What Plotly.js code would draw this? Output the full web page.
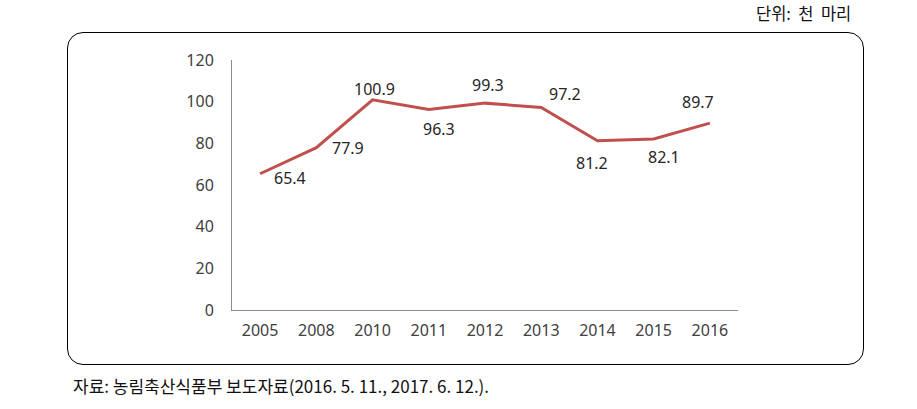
<!DOCTYPE html>
<html>
<head>
<meta charset="utf-8">
<script src="https://cdn.plot.ly/plotly-3.0.1.min.js"></script>
<style>
html,body{margin:0;padding:0;background:#fff;}
#wrap{position:relative;width:917px;height:409px;}
#chart{position:absolute;left:0;top:0;width:917px;height:409px;}
#box{position:absolute;left:67px;top:32px;width:795px;height:331px;border:1.5px solid #000;border-radius:16px;pointer-events:none;}
</style>
</head>
<body>
<div id="wrap">
<div id="chart"></div>
<div id="box"></div>
</div>
<script>
const years = ['2005','2008','2010','2011','2012','2013','2014','2015','2016'];
const heads = [65.4, 77.9, 100.9, 96.3, 99.3, 97.2, 81.2, 82.1, 89.7];
const yTicks = [0, 20, 40, 60, 80, 100, 120];
const unitText = '단위:  천  마리';
const sourceText = '자료: 농림축산식품부 보도자료(2016. 5. 11., 2017. 6. 12.).';

// label offsets (px) relative to each point
const labelShift = [
  [30, -4], [32, 0], [2, 11], [10, -20], [3, 18], [24, 14], [-5, -22], [10, -18], [-12, 21]
];

const numFont = {family: '"Noto Sans", "Open Sans", sans-serif', size: 16, color: '#262626'};

const annotations = years.map((y, i) => ({
  x: i, y: heads[i], xref: 'x', yref: 'y',
  text: heads[i].toFixed(1), showarrow: false,
  xanchor: 'center', yanchor: 'middle',
  xshift: labelShift[i][0], yshift: labelShift[i][1],
  font: numFont
}));

annotations.push({
  xref: 'paper', yref: 'paper', x: 1.227, y: 1.19, xanchor: 'right', yanchor: 'middle',
  text: unitText, showarrow: false,
  font: {family: '"Noto Sans CJK KR", sans-serif', size: 16.5, color: '#111'}
});
annotations.push({
  xref: 'paper', yref: 'paper', x: -0.318, y: -0.3, xanchor: 'left', yanchor: 'middle',
  text: sourceText, showarrow: false,
  font: {family: '"Noto Sans CJK KR", sans-serif', size: 17, color: '#111'}
});

const trace = {
  x: years, y: heads, type: 'scatter', mode: 'lines',
  line: {color: '#c0504d', width: 3},
  hoverinfo: 'skip'
};

const tickFont = {family: '"Noto Sans", "Open Sans", sans-serif', size: 16, color: '#404040'};

const layout = {
  width: 917, height: 409,
  margin: {l: 232, r: 179, t: 60, b: 99},
  paper_bgcolor: 'rgba(0,0,0,0)', plot_bgcolor: 'rgba(0,0,0,0)',
  showlegend: false,
  xaxis: {
    type: 'category', range: [-0.5, 8.5],
    showline: true, linecolor: '#8c8c8c', linewidth: 1,
    showgrid: false, zeroline: false, ticks: '',
    tickfont: tickFont,
    ticklabelstandoff: 6
  },
  yaxis: {
    range: [0, 120], tickvals: yTicks, ticktext: yTicks.map(String),
    showline: true, linecolor: '#8c8c8c', linewidth: 1,
    showgrid: false, zeroline: false, ticks: '',
    tickfont: tickFont,
    ticklabelstandoff: 14
  },
  annotations: annotations
};

Plotly.newPlot('chart', [trace], layout, {displayModeBar: false, staticPlot: true});
</script>
</body>
</html>
